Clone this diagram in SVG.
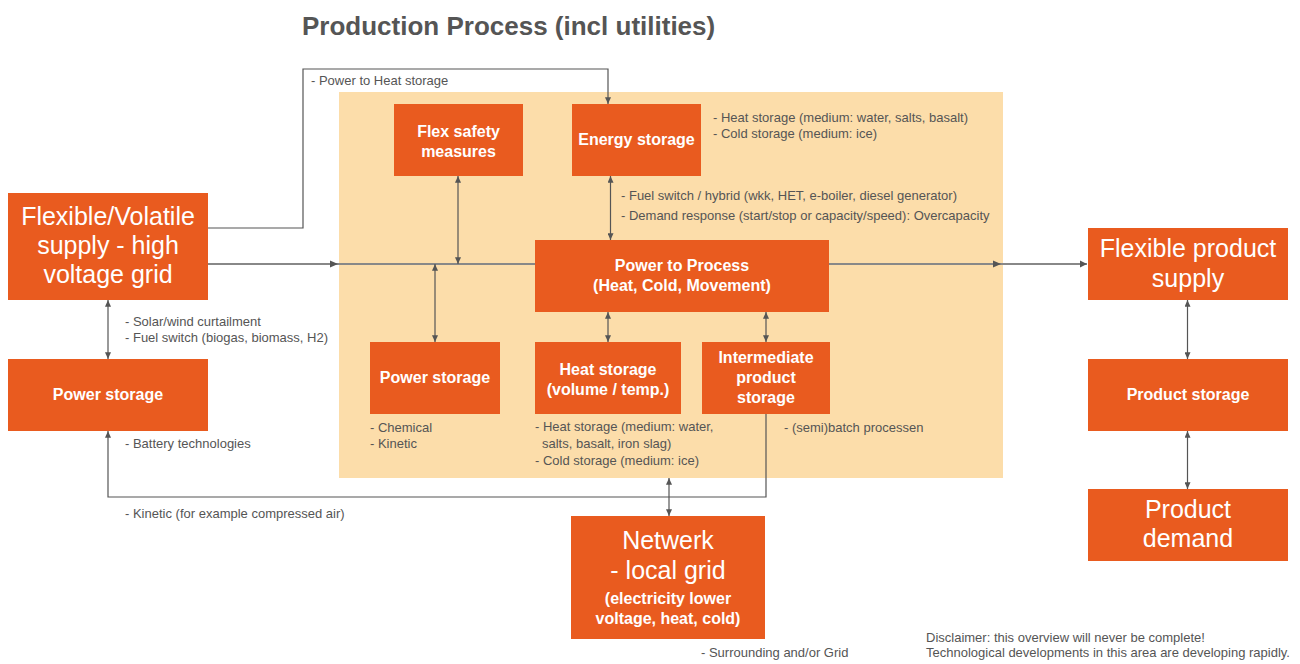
<svg xmlns="http://www.w3.org/2000/svg" width="1300" height="664" viewBox="0 0 1300 664">
  <defs>
    <style>
      .box { fill: #E95B1F; }
      .zone { fill: #FCDDAA; }
      .big { font-family: "Liberation Sans", Arial, sans-serif; font-size: 25px; fill: #fff; text-anchor: middle; }
      .mid { font-family: "Liberation Sans", Arial, sans-serif; font-size: 16px; font-weight: bold; fill: #fff; text-anchor: middle; }
      .note { font-family: "Liberation Sans", Arial, sans-serif; font-size: 13px; fill: #555; }
      .title { font-family: "Liberation Sans", Arial, sans-serif; font-size: 26px; font-weight: bold; fill: #555; }
      .ln { fill: none; stroke: #555; stroke-width: 1.2; }
      .main { fill: none; stroke: #888; stroke-width: 2; }
    </style>
    <marker id="ah" viewBox="0 0 8 7" refX="8" refY="3.5" markerWidth="7" markerHeight="6" markerUnits="userSpaceOnUse" orient="auto-start-reverse">
      <path d="M0,0 L8,3.5 L0,7 z" fill="#555"/>
    </marker>
  </defs>

  <rect width="1300" height="664" fill="#fff"/>

  <!-- process area -->
  <rect class="zone" x="339" y="92" width="664" height="386"/>

  <text class="title" x="302" y="35">Production Process (incl utilities)</text>

  <!-- connectors -->
  <g id="connectors">
    <!-- main supply line through the process -->
    <polyline class="main" points="208,264 338,264"/>
    <polyline class="main" points="338,264 535,264"/>
    <polyline class="main" points="829,264 1001,264"/>
    <polyline class="main" points="1001,264 1087,264"/>
    <path d="M330,260.5 L338,264 L330,267.5 z" fill="#555"/>
    <path d="M993,260.5 L1001,264 L993,267.5 z" fill="#555"/>
    <path d="M1080,260.5 L1087,264 L1080,267.5 z" fill="#555"/>

    <!-- power to heat storage route -->
    <polyline class="ln" points="208,228 303,228 303,69 608,69 608,104" marker-end="url(#ah)"/>

    <!-- flex supply <-> power storage -->
    <line class="ln" x1="108" y1="300" x2="108" y2="359" marker-start="url(#ah)" marker-end="url(#ah)"/>
    <!-- flex safety <-> main line -->
    <line class="ln" x1="458" y1="176" x2="458" y2="264" marker-start="url(#ah)" marker-end="url(#ah)"/>
    <!-- main line <-> inner power storage -->
    <line class="ln" x1="435" y1="264" x2="435" y2="342" marker-start="url(#ah)" marker-end="url(#ah)"/>
    <!-- energy storage <-> power to process -->
    <line class="ln" x1="610.5" y1="176" x2="610.5" y2="240" marker-start="url(#ah)" marker-end="url(#ah)"/>
    <!-- power to process <-> heat storage -->
    <line class="ln" x1="608" y1="312" x2="608" y2="342" marker-start="url(#ah)" marker-end="url(#ah)"/>
    <!-- power to process <-> intermediate storage -->
    <line class="ln" x1="766" y1="312" x2="766" y2="342" marker-start="url(#ah)" marker-end="url(#ah)"/>
    <!-- intermediate storage back to power storage -->
    <polyline class="ln" points="766,414 766,497 108,497 108,431" marker-end="url(#ah)"/>
    <!-- process area <-> local grid -->
    <line class="ln" x1="669" y1="478" x2="669" y2="516" marker-start="url(#ah)" marker-end="url(#ah)"/>
    <!-- product chain -->
    <line class="ln" x1="1187.5" y1="300" x2="1187.5" y2="359" marker-start="url(#ah)" marker-end="url(#ah)"/>
    <line class="ln" x1="1187.5" y1="431" x2="1187.5" y2="489" marker-start="url(#ah)" marker-end="url(#ah)"/>
  </g>

  <!-- nodes -->
  <g id="flex-supply">
    <rect class="box" x="8" y="193" width="200" height="107"/>
    <text class="big" x="108" y="225">Flexible/Volatile</text>
    <text class="big" x="108" y="254">supply - high</text>
    <text class="big" x="108" y="283">voltage grid</text>
  </g>

  <g id="power-storage-grid">
    <rect class="box" x="8" y="359" width="200" height="72"/>
    <text class="mid" x="108" y="400">Power storage</text>
  </g>

  <g id="flex-safety">
    <rect class="box" x="394" y="104" width="129" height="72"/>
    <text class="mid" x="458.5" y="137">Flex safety</text>
    <text class="mid" x="458.5" y="157">measures</text>
  </g>

  <g id="energy-storage">
    <rect class="box" x="572" y="104" width="129" height="72"/>
    <text class="mid" x="636.5" y="145">Energy storage</text>
  </g>

  <g id="power-to-process">
    <rect class="box" x="535" y="240" width="294" height="72"/>
    <text class="mid" x="682" y="271">Power to Process</text>
    <text class="mid" x="682" y="291">(Heat, Cold, Movement)</text>
  </g>

  <g id="power-storage-process">
    <rect class="box" x="370" y="342" width="130" height="72"/>
    <text class="mid" x="435" y="383">Power storage</text>
  </g>

  <g id="heat-storage">
    <rect class="box" x="535" y="342" width="146" height="72"/>
    <text class="mid" x="608" y="375">Heat storage</text>
    <text class="mid" x="608" y="395">(volume / temp.)</text>
  </g>

  <g id="intermediate-storage">
    <rect class="box" x="702" y="342" width="128" height="72"/>
    <text class="mid" x="766" y="363">Intermediate</text>
    <text class="mid" x="766" y="383">product</text>
    <text class="mid" x="766" y="403">storage</text>
  </g>

  <g id="local-grid">
    <rect class="box" x="571" y="516" width="194" height="123"/>
    <text class="big" x="668" y="549">Netwerk</text>
    <text class="big" x="668" y="579">- local grid</text>
    <text class="mid" x="668" y="604">(electricity lower</text>
    <text class="mid" x="668" y="624">voltage, heat, cold)</text>
  </g>

  <g id="flex-product-supply">
    <rect class="box" x="1088" y="228" width="200" height="72"/>
    <text class="big" x="1188" y="257">Flexible product</text>
    <text class="big" x="1188" y="287">supply</text>
  </g>

  <g id="product-storage">
    <rect class="box" x="1088" y="359" width="200" height="72"/>
    <text class="mid" x="1188" y="400">Product storage</text>
  </g>

  <g id="product-demand">
    <rect class="box" x="1088" y="489" width="200" height="72"/>
    <text class="big" x="1188" y="518">Product</text>
    <text class="big" x="1188" y="547">demand</text>
  </g>

  <!-- annotations -->
  <g id="notes">
    <text class="note" x="311" y="85">- Power to Heat storage</text>
    <text class="note" x="713" y="122">- Heat storage (medium: water, salts, basalt)</text>
    <text class="note" x="713" y="138">- Cold storage (medium: ice)</text>
    <text class="note" x="621" y="200">- Fuel switch / hybrid (wkk, HET, e-boiler, diesel generator)</text>
    <text class="note" x="621" y="220">- Demand response (start/stop or capacity/speed): Overcapacity</text>
    <text class="note" x="125" y="326">- Solar/wind curtailment</text>
    <text class="note" x="125" y="342">- Fuel switch (biogas, biomass, H2)</text>
    <text class="note" x="125" y="448">- Battery technologies</text>
    <text class="note" x="125" y="518">- Kinetic (for example compressed air)</text>
    <text class="note" x="370" y="432">- Chemical</text>
    <text class="note" x="370" y="448">- Kinetic</text>
    <text class="note" x="535" y="431">- Heat storage (medium: water,</text>
    <text class="note" x="542" y="448">salts, basalt, iron slag)</text>
    <text class="note" x="535" y="465">- Cold storage (medium: ice)</text>
    <text class="note" x="784" y="432">- (semi)batch processen</text>
    <text class="note" x="701" y="657">- Surrounding and/or Grid</text>
    <text class="note" x="926" y="642" fill="#444">Disclaimer: this overview will never be complete!</text>
    <text class="note" x="926" y="657" fill="#444">Technological developments in this area are developing rapidly.</text>
  </g>
</svg>
